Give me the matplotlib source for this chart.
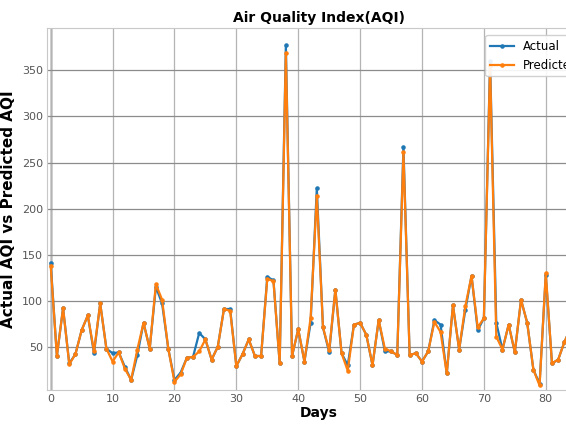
import numpy as np
import matplotlib
matplotlib.use('Agg')
import matplotlib.pyplot as plt

# values
days = list(range(0, 85))
actual = [141, 40, 92, 32, 42, 68, 84, 43, 97, 48,
          43, 44, 28, 14, 41, 76, 48, 115, 97, 48,
          14, 22, 38, 39, 65, 58, 36, 50, 91, 91,
          29, 42, 58, 40, 40, 126, 122, 32, 377, 40,
          69, 34, 76, 222, 71, 44, 112, 43, 30, 74,
          76, 63, 30, 79, 45, 45, 41, 267, 41, 43,
          34, 45, 79, 74, 21, 95, 47, 90, 127, 68,
          81, 360, 76, 47, 74, 44, 101, 76, 25, 10,
          128, 32, 36, 55, 70]
predicted = [138, 40, 92, 31, 42, 68, 84, 45, 97, 48,
             34, 44, 26, 14, 47, 76, 48, 118, 101, 48,
             12, 20, 38, 39, 45, 58, 36, 50, 91, 89,
             29, 42, 58, 40, 40, 124, 121, 32, 369, 40,
             69, 34, 81, 214, 71, 46, 112, 43, 24, 74,
             76, 63, 30, 79, 48, 45, 41, 261, 41, 43,
             34, 45, 77, 66, 21, 95, 47, 94, 127, 71,
             81, 355, 61, 47, 74, 44, 101, 76, 25, 8,
             130, 32, 36, 55, 70]

fig = plt.figure(figsize=(5.66, 4.24), dpi=100)
ax = fig.add_axes([0.083, 0.080, 0.96, 0.854])

ax.plot(days, actual, marker='.', markersize=4.5, lw=1.6, color='#1f77b4', label='Actual')
ax.plot(days, predicted, marker='.', markersize=4.5, lw=1.6, color='#ff7f0e', label='Predicted')

ax.set_xlim(-0.6, 87.2)
ax.set_ylim(3, 396)
ax.set_xticks(range(0, 90, 10))
ax.set_yticks(range(50, 400, 50))
ax.grid(True, axis='x', color='#b4b4b4', lw=0.9)
ax.grid(True, axis='y', color='#8c8c8c', lw=0.9)
ax.axvline(0, color='#222222', lw=1.0, zorder=1)
for s in ax.spines.values():
    s.set_color('#c8c8c8')
ax.tick_params(length=0, labelsize=8, labelcolor='#555555', pad=3)

ax.set_title('Air Quality Index(AQI)', fontsize=10, fontweight='bold', pad=4)
ax.set_xlabel('Days', fontsize=10, fontweight='bold', labelpad=1)
ax.set_ylabel('Actual AQI vs Predicted AQI', fontsize=11, fontweight='bold', labelpad=4)
ax.legend(loc='upper right', fontsize=8.5, framealpha=0.9, borderaxespad=0.6)

fig.savefig('out.png', dpi=100)
